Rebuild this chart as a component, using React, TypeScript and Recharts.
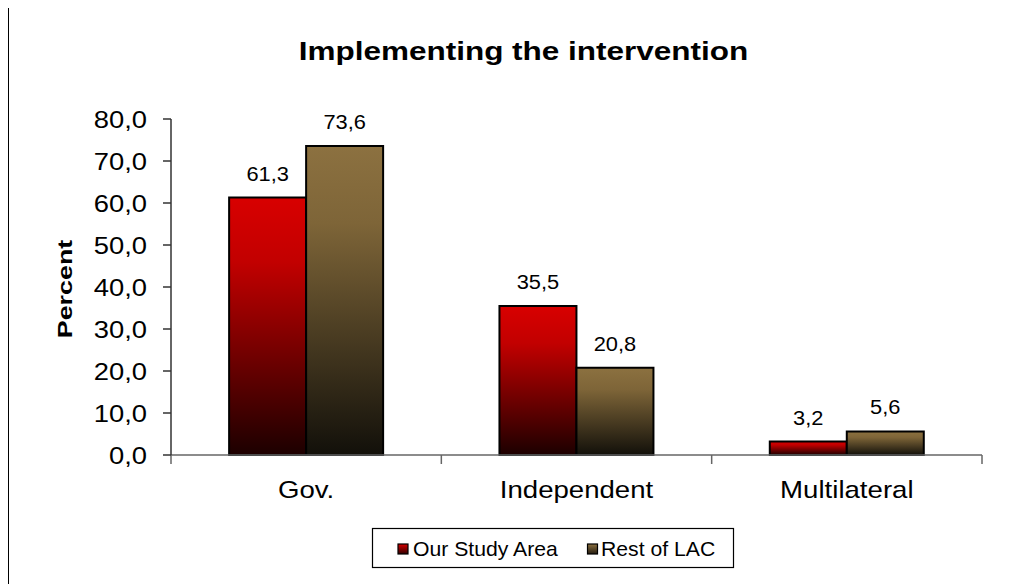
import React from 'react';
import { BarChart, Bar, XAxis, YAxis, LabelList } from 'recharts';

const categories = ['Gov.', 'Independent', 'Multilateral'];
const ourStudyArea = [61.3, 35.5, 3.2];
const restOfLAC = [73.6, 20.8, 5.6];
const yTicks = [0, 10, 20, 30, 40, 50, 60, 70, 80];
const seriesNames = ['Our Study Area', 'Rest of LAC'];
const chartTitle = 'Implementing the intervention';
const yAxisTitle = 'Percent';

const data = categories.map((c, i) => ({ name: c, a: ourStudyArea[i], b: restOfLAC[i] }));

const FONT = '"Liberation Sans", Arial, sans-serif';
const W = 1005;
const H = 576;
const margin = { top: 111, right: 31, bottom: 99, left: 103 };
const Y_W = 60;
const X_H = 30;
const plotW = W - margin.left - margin.right - Y_W;
const band = plotW / categories.length;
const SX = 1.14;

const fmt = (v: number) => v.toFixed(1).replace('.', ',');

const XTick = (props: any) => {
  const { x, y, payload, index } = props;
  const half = band / 2;
  return (
    <g>
      <line x1={x - half} y1={y} x2={x - half} y2={y + 9} stroke="#666" strokeWidth={1.5} />
      {index === categories.length - 1 && (
        <line x1={x + half} y1={y} x2={x + half} y2={y + 9} stroke="#666" strokeWidth={1.5} />
      )}
      <text
        transform={`translate(${x},${y + 43}) scale(1.15,1)`}
        textAnchor="middle"
        fontSize={24}
        fill="#000"
        fontFamily={FONT}
      >
        {payload.value}
      </text>
    </g>
  );
};

const YTick = (props: any) => {
  const { x, y, payload } = props;
  return (
    <g>
      <line x1={x} y1={y} x2={x + 8} y2={y} stroke="#333" strokeWidth={1.5} />
      <text
        transform={`translate(${x - 16},${y + 9}) scale(${SX},1)`}
        textAnchor="end"
        fontSize={24}
        fill="#000"
        fontFamily={FONT}
      >
        {fmt(Number(payload.value))}
      </text>
    </g>
  );
};

const ValueLabel = (props: any) => {
  const { x, y, width, value } = props;
  return (
    <text
      transform={`translate(${Number(x) + Number(width) / 2},${Number(y) - 17}) scale(1.12,1)`}
      textAnchor="middle"
      fontSize={19.5}
      fill="#000"
      fontFamily={FONT}
    >
      {fmt(Number(value))}
    </text>
  );
};

export default function App() {
  return (
    <div style={{ position: 'relative', width: W, height: H, fontFamily: FONT }}>
      <div
        style={{
          position: 'absolute',
          left: 0,
          top: -1,
          width: W + 20,
          height: H + 20,
          borderLeft: '1.5px solid #000',
          borderTop: '1.5px solid #000',
          boxSizing: 'border-box',
        }}
      />
      <BarChart
        width={W}
        height={H}
        data={data}
        margin={margin}
        barCategoryGap="21.5%"
        barGap={0}
        style={{ position: 'absolute', left: 0, top: 0 }}
      >
        <defs>
          <linearGradient id="gradRed" x1="0" y1="0" x2="0" y2="1">
            <stop offset="0%" stopColor="#d80000" />
            <stop offset="25%" stopColor="#c20000" />
            <stop offset="100%" stopColor="#1c0000" />
          </linearGradient>
          <linearGradient id="gradBrown" x1="0" y1="0" x2="0" y2="1">
            <stop offset="0%" stopColor="#8c7140" />
            <stop offset="25%" stopColor="#7e6538" />
            <stop offset="100%" stopColor="#12100a" />
          </linearGradient>
        </defs>
        <XAxis
          dataKey="name"
          height={X_H}
          tick={<XTick />}
          tickLine={false}
          tickSize={0}
          tickMargin={0}
          axisLine={{ stroke: '#666', strokeWidth: 1.5 }}
          interval={0}
        />
        <YAxis
          width={Y_W}
          domain={[0, 80]}
          ticks={yTicks}
          tick={<YTick />}
          tickLine={false}
          tickSize={8}
          tickMargin={0}
          interval={0}
          axisLine={{ stroke: '#333', strokeWidth: 1.5 }}
        />
        <Bar dataKey="a" name={seriesNames[0]} fill="url(#gradRed)" stroke="#000" strokeWidth={2} isAnimationActive={false}>
          <LabelList dataKey="a" content={<ValueLabel />} />
        </Bar>
        <Bar dataKey="b" name={seriesNames[1]} fill="url(#gradBrown)" stroke="#000" strokeWidth={2} isAnimationActive={false}>
          <LabelList dataKey="b" content={<ValueLabel />} />
        </Bar>
      </BarChart>
      <svg
        width={W}
        height={H}
        style={{ position: 'absolute', left: 0, top: 0, pointerEvents: 'none' }}
      >
        <defs>
          <linearGradient id="lgRed" x1="0" y1="0" x2="0" y2="1">
            <stop offset="0%" stopColor="#d80000" />
            <stop offset="100%" stopColor="#300000" />
          </linearGradient>
          <linearGradient id="lgBrown" x1="0" y1="0" x2="0" y2="1">
            <stop offset="0%" stopColor="#8c7140" />
            <stop offset="100%" stopColor="#241c10" />
          </linearGradient>
        </defs>
        <text
          transform="translate(515.5,52) scale(1.26,1)"
          textAnchor="middle"
          fontSize={25}
          fontWeight="bold"
          fill="#000"
          fontFamily={FONT}
        >
          {chartTitle}
        </text>
        <text
          transform="translate(63.5,281) rotate(-90) scale(1.28,1)"
          textAnchor="middle"
          fontSize={21}
          fontWeight="bold"
          fill="#000"
          fontFamily={FONT}
        >
          {yAxisTitle}
        </text>
        <rect x={364.5} y={520.5} width={361} height={39} fill="#fff" stroke="#000" strokeWidth={1.2} />
        <rect x={390} y={536} width={10} height={10} fill="url(#lgRed)" stroke="#000" strokeWidth={1.2} />
        <text
          transform="translate(405,547.5) scale(1.06,1)"
          fontSize={20}
          fill="#000"
          fontFamily={FONT}
        >
          {seriesNames[0]}
        </text>
        <rect x={579.5} y={536} width={10} height={10} fill="url(#lgBrown)" stroke="#000" strokeWidth={1.2} />
        <text
          transform="translate(593,547.5) scale(1.06,1)"
          fontSize={20}
          fill="#000"
          fontFamily={FONT}
        >
          {seriesNames[1]}
        </text>
      </svg>
    </div>
  );
}
